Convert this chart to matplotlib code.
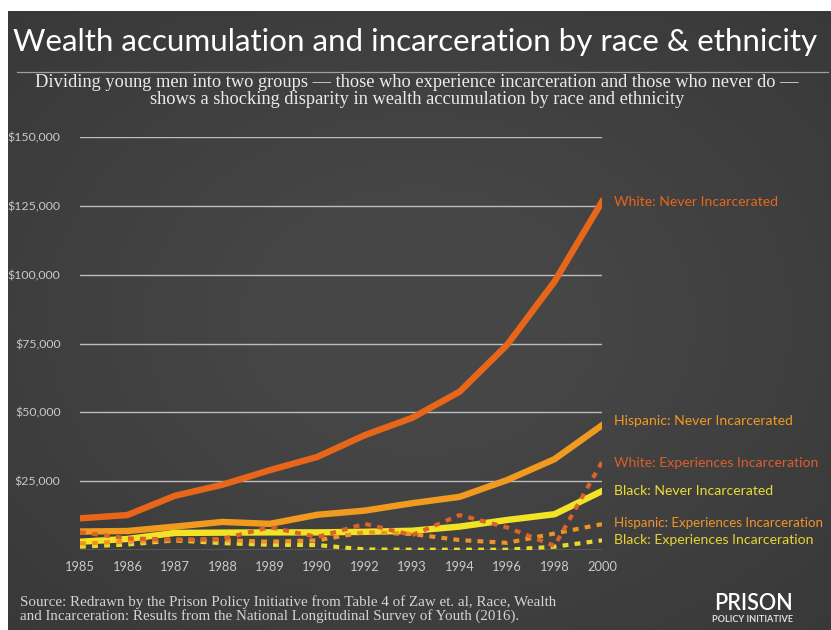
import numpy as np
import matplotlib
matplotlib.use('Agg')
import matplotlib.pyplot as plt
from matplotlib.ticker import FuncFormatter


years = ['1985', '1986', '1987', '1988', '1989', '1990',
         '1992', '1993', '1994', '1996', '1998', '2000']

white_never = [11500, 12700, 19700, 23700, 29000, 33800,
               41700, 48000, 57500, 74500, 97500, 126500]
hispanic_never = [6700, 6900, 8500, 10200, 9500, 12800,
                  14300, 17000, 19300, 25400, 33000, 45300]
black_never = [3000, 4000, 6200, 6300, 6400, 6400,
               6600, 7000, 8500, 10900, 13000, 21400]
white_exp = [6500, 4200, 3800, 4000, 8300, 4700,
             9500, 5400, 12700, 8200, 1500, 32000]
hispanic_exp = [2400, 3000, 3500, 3600, 3000, 3500,
                6500, 5800, 3600, 2600, 6000, 9400]
black_exp = [1200, 2000, 3500, 2500, 1900, 1800,
             200, 100, 100, 100, 1200, 3500]

y_ticks = [0, 25000, 50000, 75000, 100000, 125000, 150000]

WHITE_C = '#e8661a'
HISP_C = '#f29a1f'
BLACK_C = '#f2e425'
GRID_C = '#bdbdbd'
TICK_C = '#c9c9c9'

fig = plt.figure(figsize=(8.31, 6.30), dpi=100, facecolor='white')

# dark panel with a soft vignette, leaving a thin white edge top and left
bg_ax = fig.add_axes([8 / 831, 0, 1 - 8 / 831, 1 - 11 / 630])
bg_ax.set_axis_off()
yy, xx = np.mgrid[-1:1:300j, -1:1:400j]
r = np.sqrt(xx ** 2 + yy ** 2)
shade = 0.275 - 0.05 * np.clip(r - 0.35, 0, None)
bg_ax.imshow(np.dstack([shade] * 3), aspect='auto', interpolation='bicubic',
             extent=[0, 1, 0, 1], vmin=0, vmax=1)

ax = fig.add_axes([80 / 831, 80 / 630, 522 / 831, 413 / 630])
ax.patch.set_alpha(0)
x = np.arange(len(years))

for v in y_ticks:
    ax.axhline(v, color=GRID_C, lw=1.0, zorder=1)

ax.plot(x, white_never, color=WHITE_C, lw=4.6, solid_joinstyle='round', zorder=3)
ax.plot(x, hispanic_never, color=HISP_C, lw=4.6, solid_joinstyle='round', zorder=3)
ax.plot(x, black_never, color=BLACK_C, lw=4.6, solid_joinstyle='round', zorder=3)

dots = (0, (1.4, 1.5))
ax.plot(x, black_exp, color='#ecd92e', lw=3.0, ls=dots, zorder=4)
ax.plot(x, hispanic_exp, color='#ee9325', lw=3.0, ls=dots, zorder=4)
ax.plot(x, white_exp, color='#d9632a', lw=3.0, ls=dots, zorder=5)

ax.set_xlim(0, len(years) - 1)
ax.set_ylim(0, 150000)
ax.set_xticks(x)
ax.set_xticklabels(years)
ax.set_yticks(y_ticks)
ax.yaxis.set_major_formatter(FuncFormatter(lambda v, p: '' if v == 0 else f'${v:,.0f}'))
ax.tick_params(axis='both', length=0, colors=TICK_C)
ax.tick_params(axis='x', pad=8, labelsize=9.3)
ax.tick_params(axis='y', pad=14, labelsize=8.9)
for lab in ax.get_xticklabels() + ax.get_yticklabels():
    lab.set_family('Lato')
for s in ax.spines.values():
    s.set_visible(False)

# series names at the right end of each line
series_labels = [
    ('White: Never Incarcerated', white_never, '#e8661a', 0, 10.1),
    ('Hispanic: Never Incarcerated', hispanic_never, '#f29a1f', 3, 10.1),
    ('White: Experiences Incarceration', white_exp, '#da5f2c', -1, 10.1),
    ('Black: Never Incarcerated', black_never, '#ebdc34', 0, 10.1),
    ('Hispanic: Experiences Incarceration', hispanic_exp, '#ef952a', 1, 9.6),
    ('Black: Experiences Incarceration', black_exp, '#e8d535', 0, 10.1),
]
for text, vals, col, dy, fs in series_labels:
    ax.annotate(text, xy=(x[-1], vals[-1]), xytext=(9, dy), textcoords='offset points',
                va='center', ha='left', color=col, fontsize=fs, family='Lato',
                annotation_clip=False)

fig.text(0.5, 1 - 42 / 630, 'Wealth accumulation and incarceration by race & ethnicity',
         ha='center', va='center', color='white', fontsize=22.6, family='Lato')
fig.add_artist(plt.Line2D([17 / 831, 828 / 831], [1 - 72 / 630] * 2,
                          color='#a0a0a0', lw=0.9, transform=fig.transFigure))
fig.text(0.502, 1 - 91 / 630,
         'Dividing young men into two groups \u2014 those who experience incarceration and those who never do \u2014\n'
         'shows a shocking disparity in wealth accumulation by race and ethnicity',
         ha='center', va='center', color='#ececec', fontsize=13.2, family='Liberation Serif',
         linespacing=1.0)

fig.text(20 / 831, 1 - 609 / 630,
         'Source: Redrawn by the Prison Policy Initiative from Table 4 of Zaw et. al, Race, Wealth\n'
         'and Incarceration: Results from the National Longitudinal Survey of Youth (2016).',
         ha='left', va='center', color='#d4d4d4', fontsize=10.8, family='Liberation Serif',
         linespacing=1.05)
fig.text(753 / 831, 1 - 604 / 630, 'PRISON', ha='center', va='center', color='white',
         fontsize=15.5, family='Lato', fontweight='semibold')
fig.text(753 / 831, 1 - 619 / 630, 'POLICY INITIATIVE', ha='center', va='center',
         color='#dddddd', fontsize=6.6, family='Lato', fontweight='bold')

fig.savefig('out.png', dpi=100, facecolor=fig.get_facecolor())
